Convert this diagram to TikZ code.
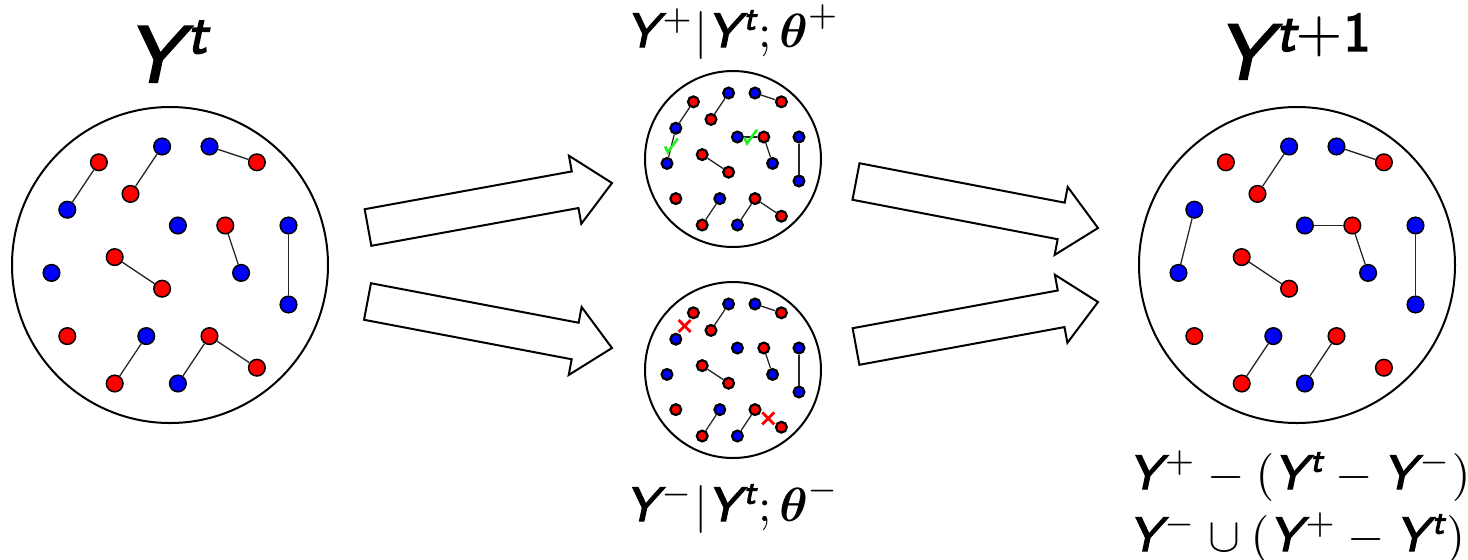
\documentclass[tikz,border=0pt]{standalone}
\usepackage{amsmath}
\usepackage{fontspec}
\usetikzlibrary{calc}
\newfontfamily\ysf{lmsans10-oblique.otf}[FakeBold=3]
\newfontfamily\ysfup{lmsans10-regular.otf}[FakeBold=3]
\definecolor{dotred}{HTML}{FF0000}
\definecolor{dotblue}{HTML}{0000FF}
\definecolor{okgreen}{HTML}{22EE22}
\definecolor{ink}{HTML}{000000}
\newcommand{\sfv}[1]{\text{\ysf #1}}
\newcommand{\Yv}{\text{\ysf Y}\mkern1.5mu}
\tikzset{
  ring/.style={circle, draw=ink, line width=1pt, inner sep=0pt, minimum size=#1},
  bead/.style={circle, draw=ink, fill=#1, inner sep=0pt},
  link/.style={draw=ink!85, line width=0.65pt},
  fatarr/.style={draw=ink, line width=1pt, line join=miter, fill=white},
  lab/.style={inner sep=0pt, scale=#1},
  pics/okmark/.style={code={\draw[okgreen, line width=1.3pt, line cap=round] (-3pt,-0.6pt) -- (-1.8pt,-3.2pt) -- (3pt,3.4pt);}},
  pics/nomark/.style={code={\draw[dotred, line width=1.4pt] (-3pt,-3pt) -- (3pt,3pt) (-3pt,3pt) -- (3pt,-3pt);}},
}
\newcommand{\beads}[3]{%
  \foreach \i/\dx/\dy/\col in {1/-4.5/-6.5/dotred, 2/-0.5/-7.5/dotblue, 3/2.5/-7.5/dotblue, 4/5.5/-6.5/dotred,
      5/-6.5/-3.5/dotblue, 6/-2.5/-4.5/dotred, 7/0.5/-2.5/dotblue, 8/3.5/-2.5/dotred, 9/7.5/-2.5/dotblue,
      10/-3.5/-0.5/dotred, 11/-7.5/0.5/dotblue, 12/-0.5/1.5/dotred, 13/4.5/0.5/dotblue, 14/7.5/2.5/dotblue,
      15/-6.5/4.5/dotred, 16/-1.5/4.5/dotblue, 17/2.5/4.5/dotred, 18/-3.5/7.5/dotred, 19/0.5/7.5/dotblue,
      20/5.5/6.5/dotred}
    \node[bead=\col, minimum size=#2, line width=#3] (#1-\i) at (\dx,\dy) {};}
\newcommand{\links}[2]{\foreach \a/\b in {#2} \draw[link] (#1-\a) -- (#1-\b);}
\newcommand{\fatarrow}[2]{%
  \coordinate (fa-b) at ($(#2)!18.75pt!(#1)$);
  \draw[fatarr] ($(#1)!9.3pt!90:(#2)$) -- ($(fa-b)!9.3pt!-90:(#1)$) -- ($(fa-b)!17.3pt!-90:(#1)$) -- (#2)
    -- ($(fa-b)!17.3pt!90:(#1)$) -- ($(fa-b)!9.3pt!90:(#1)$) -- ($(#1)!9.3pt!-90:(#2)$) -- cycle;}

\begin{document}
\begin{tikzpicture}[x=0.5pt, y=-0.5pt]
  \useasboundingbox (0,0) rectangle (1468,559);
  \node[ring=158pt] (Yt) at (170,265) {};
  \node[ring=88pt] (Yp) at (733,159) {};
  \node[ring=88pt] (Ym) at (733,370) {};
  \node[ring=158pt] (Yn) at (1297,265) {};

  \begin{scope}[shift={(Yt.center)}, x=7.9pt, y=-7.9pt]
    \beads{t}{8.3pt}{0.75pt}
    \links{t}{1/5,2/6,3/4,8/13,9/14,10/12,16/18,17/19,17/20}
  \end{scope}
  \begin{scope}[shift={(Yp.center)}, x=4.4pt, y=-4.4pt]
    \beads{p}{5.4pt}{1.1pt}
    \links{p}{1/5,2/6,3/4,5/11,7/8,8/13,9/14,10/12,16/18,17/19,17/20}
    \pic at ($(p-5)!0.5!(p-11)$) {okmark};
    \pic at ($(p-7)!0.5!(p-8)$) {okmark};
  \end{scope}
  \begin{scope}[shift={(Ym.center)}, x=4.4pt, y=-4.4pt]
    \beads{m}{5.4pt}{1.1pt}
    \links{m}{2/6,3/4,8/13,9/14,10/12,16/18,17/19}
    \pic at ($(m-1)!0.5!(m-5)$) {nomark};
    \pic at ($(m-17)!0.5!(m-20)$) {nomark};
  \end{scope}
  \begin{scope}[shift={(Yn.center)}, x=7.9pt, y=-7.9pt]
    \beads{n}{8.3pt}{0.75pt}
    \links{n}{2/6,3/4,5/11,7/8,8/13,9/14,10/12,16/18,17/19}
  \end{scope}

  \coordinate (a1s) at (368,227.5); \coordinate (a1e) at (612,183);
  \coordinate (a2s) at (367.5,301.5); \coordinate (a2e) at (612,348);
  \coordinate (a3s) at (856,181.5); \coordinate (a3e) at (1098,228);
  \coordinate (a4s) at (856,346.5); \coordinate (a4e) at (1098,302);
  \fatarrow{a1s}{a1e} \fatarrow{a2s}{a2e} \fatarrow{a3s}{a3e} \fatarrow{a4s}{a4e}

  \node[lab=4.0, anchor=base] (tYt) at (169,82) {$\Yv^{\sfv{t}}$};
  \node[lab=3.9, anchor=base] (tYn) at (1296,79) {$\Yv^{\sfv{t}+\text{\ysfup 1}}$};
  \node[lab=2.4, anchor=base] (tYp) at (733,47) {$\Yv^{+}|\Yv^{\sfv{t}};\boldsymbol{\theta}^{+}$};
  \node[lab=2.4, anchor=base] (tYm) at (733,521) {$\Yv^{-}|\Yv^{\sfv{t}};\boldsymbol{\theta}^{-}$};
  \node[lab=2.4, anchor=base west] (upd1) at (1128,489) {$\Yv^{+}-(\Yv^{\sfv{t}}-\Yv^{-})$};
  \node[lab=2.4, anchor=base west] (upd2) at (1128,551) {$\Yv^{-}\cup(\Yv^{+}-\Yv^{\sfv{t}})$};
\end{tikzpicture}
\end{document}
